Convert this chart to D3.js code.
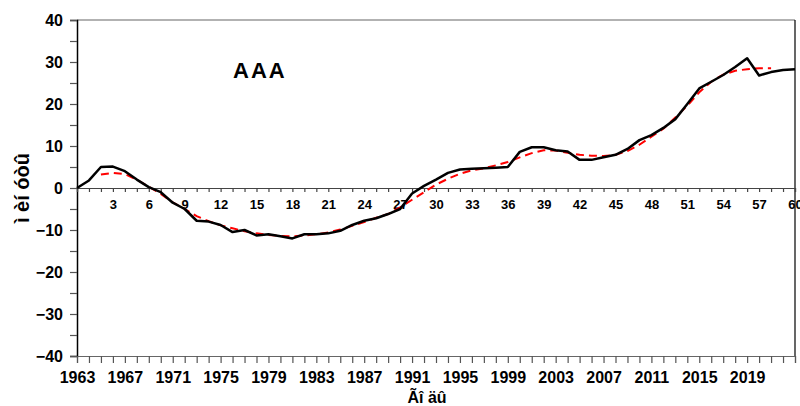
<!DOCTYPE html>
<html>
<head>
<meta charset="utf-8">
<script src="https://cdn.jsdelivr.net/npm/d3@7"></script>
<style>
  body { margin: 0; background: #fff; }
  svg text { font-family: "Liberation Sans", Arial, sans-serif; font-weight: bold; fill: #000; }
</style>
</head>
<body>
<svg id="chart" width="800" height="406"></svg>
<script>
// black line, one value per step 0..60
var actual = [0, 1.8, 5.0, 5.1, 4.0, 2.0, 0.2, -1.0, -3.5, -5.0,
  -7.8, -8.0, -8.8, -10.5, -10.0, -11.3, -11.0, -11.5, -12.0, -11.0,
  -11.0, -10.8, -10.2, -8.8, -7.8, -7.2, -6.2, -5.0, -1.3, 0.5,
  2.0, 3.6, 4.4, 4.6, 4.7, 4.85, 5.0, 8.6, 9.7, 9.7,
  9.0, 8.7, 6.7, 6.7, 7.3, 7.9, 9.3, 11.4, 12.6, 14.3,
  16.4, 20.0, 23.7, 25.3, 26.9, 28.8, 30.9, 26.8, 27.6, 28.1, 28.3];
// red dashed line, steps 2..58
var smoothStart = 2;
var smooth = [3.2, 3.6, 3.3, 2.0, 0.3, -1.4, -3.4, -5.0,
  -6.7, -7.9, -8.9, -9.6, -10.3, -10.8, -11.2, -11.4, -11.5, -11.3,
  -11.0, -10.6, -9.9, -9.0, -8.1, -7.1, -6.2, -4.6, -2.8, -1.0,
  0.8, 2.2, 3.4, 4.2, 4.7, 5.4, 6.2, 7.3, 8.3, 9.0,
  8.9, 8.4, 7.9, 7.7, 7.6, 7.9, 8.8, 10.3, 12.2, 14.1,
  16.8, 19.6, 22.8, 25.3, 27.0, 27.9, 28.3, 28.5, 28.5];
var stepTicks = d3.range(3, 61, 3);
var yearTicks = d3.range(1963, 2020, 4);
var yTicks = [-40, -30, -20, -10, 0, 10, 20, 30, 40];

var svg = d3.select("#chart");
var plotLeft = 77, plotRight = 795, plotTop = 20, plotBottom = 356;

var x = d3.scaleLinear().domain([0, 60]).range([plotLeft, plotRight]);
var xYear = d3.scaleLinear().domain([1963, 2023]).range([plotLeft, plotRight]);
var y = d3.scaleLinear().domain([-40, 40]).range([plotBottom, plotTop]);

// frame: grey top line, black right line
svg.append("line").attr("x1", plotLeft).attr("x2", plotRight).attr("y1", plotTop).attr("y2", plotTop)
  .attr("stroke", "#666").attr("stroke-width", 1.2);
svg.append("line").attr("x1", plotRight).attr("x2", plotRight).attr("y1", plotTop).attr("y2", plotBottom)
  .attr("stroke", "#000").attr("stroke-width", 1.2);

// y axis
var yAxis = svg.append("g").attr("transform", "translate(" + plotLeft + ",0)")
  .call(d3.axisLeft(y).tickValues(yTicks).tickSize(7).tickPadding(7));
yAxis.select(".domain").attr("stroke", "#000").attr("stroke-width", 1.5);
yAxis.selectAll(".tick line").attr("stroke", "#555").attr("stroke-width", 1.2);
yAxis.selectAll("text").style("font-size", "16px");
svg.append("g").attr("transform", "translate(" + plotLeft + ",0)")
  .call(d3.axisLeft(y).tickValues(d3.range(-35, 40, 10)).tickSize(7).tickFormat(""))
  .call(function(g) {
    g.select(".domain").remove();
    g.selectAll(".tick line").attr("stroke", "#555").attr("stroke-width", 1.2);
  });

// bottom year axis
var xAxis = svg.append("g").attr("transform", "translate(0," + plotBottom + ")")
  .call(d3.axisBottom(xYear).tickValues(d3.range(1963, 2024)).tickSize(7).tickFormat(""));
xAxis.select(".domain").attr("stroke", "#666").attr("stroke-width", 1.2);
xAxis.selectAll(".tick line").attr("stroke", "#555").attr("stroke-width", 1.2);
svg.append("g").attr("transform", "translate(0," + plotBottom + ")")
  .call(d3.axisBottom(xYear).tickValues(yearTicks).tickSize(0).tickPadding(16).tickFormat(d3.format("d")))
  .call(function(g) {
    g.select(".domain").remove();
    g.selectAll("text").style("font-size", "16px");
  });

// inner step axis on zero line
var zAxis = svg.append("g").attr("transform", "translate(0," + y(0) + ")")
  .call(d3.axisBottom(x).tickValues(d3.range(0, 61)).tickSize(4).tickFormat(""));
zAxis.select(".domain").attr("stroke", "#444").attr("stroke-width", 1.2);
zAxis.selectAll(".tick line").attr("stroke", "#444").attr("stroke-width", 1.2);
svg.append("g").attr("transform", "translate(0," + y(0) + ")")
  .call(d3.axisBottom(x).tickValues(stepTicks).tickSize(0).tickPadding(12))
  .call(function(g) {
    g.select(".domain").remove();
    g.selectAll("text").style("font-size", "13px");
  });

// lines
var line = d3.line().x(function(d) { return x(d[0]); }).y(function(d) { return y(d[1]); });
svg.append("path")
  .datum(smooth.map(function(v, i) { return [i + smoothStart, v]; }))
  .attr("d", line).attr("fill", "none")
  .attr("stroke", "#ff0000").attr("stroke-width", 2).attr("stroke-dasharray", "8,5");
svg.append("path")
  .datum(actual.map(function(v, i) { return [i, v]; }))
  .attr("d", line).attr("fill", "none")
  .attr("stroke", "#000").attr("stroke-width", 2.5).attr("stroke-linejoin", "round");

// labels
svg.append("text").attr("x", 233).attr("y", 78).style("font-size", "22px")
  .style("letter-spacing", "2px").text("AAA");
svg.append("text").attr("transform", "translate(29,188) rotate(-90)")
  .attr("text-anchor", "middle").style("font-size", "20px").text("ì èí óòû");
svg.append("text").attr("x", 427).attr("y", 403).attr("text-anchor", "middle")
  .style("font-size", "16px").text("Ãî äû");
</script>
</body>
</html>
